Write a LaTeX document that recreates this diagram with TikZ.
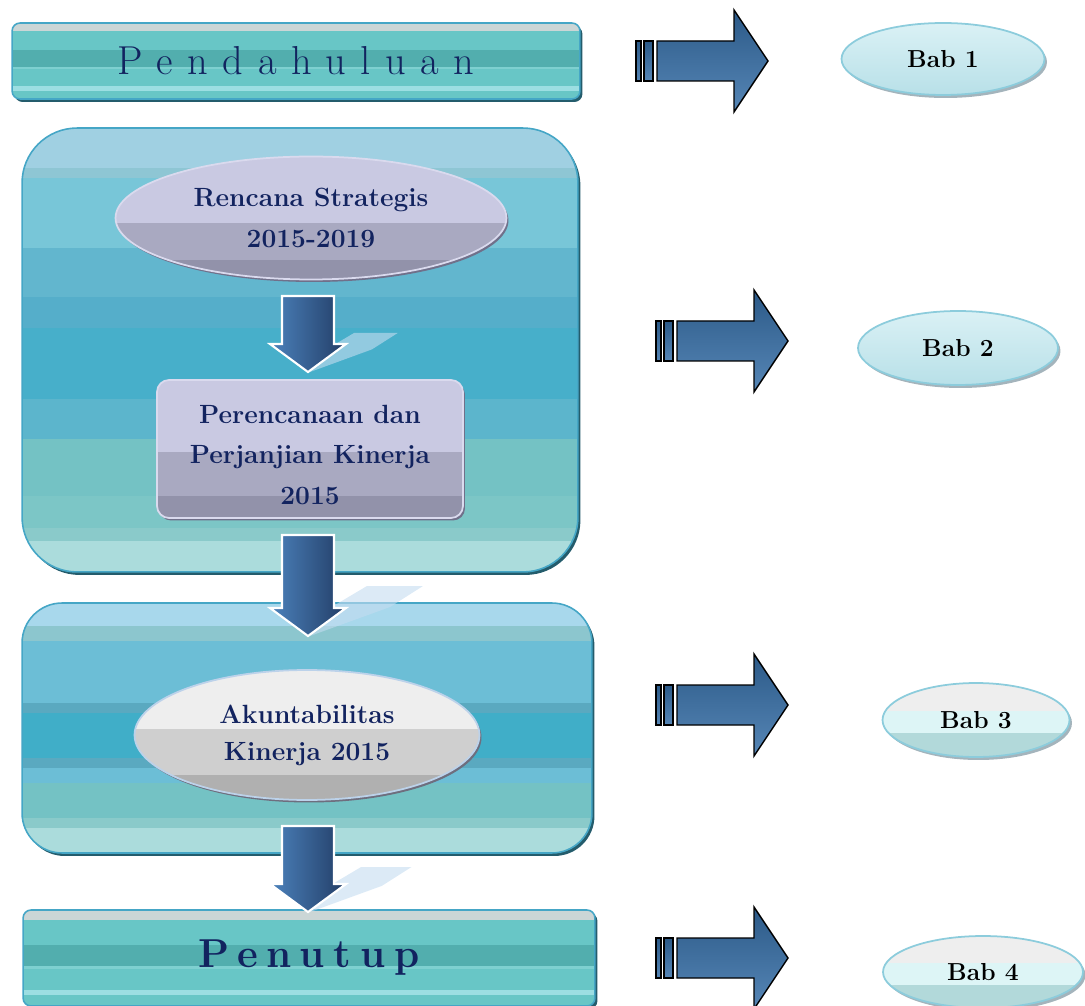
\documentclass[tikz,border=0pt]{standalone}
\usepackage{fontspec}
\setmainfont{Latin Modern Roman}
\usetikzlibrary{shapes.geometric,calc,shadows}

\definecolor{navy}{HTML}{12235F}
\definecolor{tealA}{HTML}{68C6C6}
\definecolor{tealB}{HTML}{52AEAE}
\definecolor{tealC}{HTML}{9CDEE2}
\definecolor{tealD}{HTML}{7ED0D0}
\definecolor{greyA}{HTML}{CBD6D6}
\definecolor{rimblue}{HTML}{45A6C6}
\definecolor{rimdark}{HTML}{245C6C}
\definecolor{lavA}{HTML}{C9C9E2}
\definecolor{lavB}{HTML}{A9A9C1}
\definecolor{lavC}{HTML}{9292AA}
\definecolor{lavrim}{HTML}{DADAEE}
\definecolor{lavshadow}{HTML}{70708A}
\definecolor{silA}{HTML}{EEEEEE}
\definecolor{silB}{HTML}{CFCFCF}
\definecolor{silC}{HTML}{B0B0B0}
\definecolor{silrim}{HTML}{BCD2EA}
\definecolor{silshadow}{HTML}{6E6E7E}
\definecolor{babrim}{HTML}{8CCCDC}
\definecolor{babshadow}{HTML}{A4B4BC}
\definecolor{babtop}{HTML}{DAF1F5}
\definecolor{babbot}{HTML}{B8E0E8}
\definecolor{babmid}{HTML}{DDF5F6}
\definecolor{bablow}{HTML}{B2D9DA}
\definecolor{arrtop}{HTML}{2C5A88}
\definecolor{arrbot}{HTML}{5686B6}
\definecolor{downL}{HTML}{4C82BC}
\definecolor{downR}{HTML}{223D66}
\definecolor{ghost}{HTML}{C4DCF0}
%% stripes of the two panels
\definecolor{pa1}{HTML}{A0D0E2}
\definecolor{pa2}{HTML}{8EC6D4}
\definecolor{pa3}{HTML}{78C6D8}
\definecolor{pa4}{HTML}{62B6CE}
\definecolor{pa5}{HTML}{55AECA}
\definecolor{pa6}{HTML}{47AFCA}
\definecolor{pa7}{HTML}{5CB5CC}
\definecolor{pa8}{HTML}{74C2C4}
\definecolor{pa9}{HTML}{7CC6C6}
\definecolor{pa10}{HTML}{8ACACA}
\definecolor{pa11}{HTML}{ABDCDC}
\definecolor{pb1}{HTML}{A8D8EC}
\definecolor{pb2}{HTML}{8CC6CE}
\definecolor{pb3}{HTML}{6CBED6}
\definecolor{pb4}{HTML}{5AA9C0}
\definecolor{pb5}{HTML}{40AEC8}

%% one stripe inside a path picture: colour, from, to (fractions of the height, from the top)
\newcommand{\band}[3]{\fill[#1,sharp corners] ($(path picture bounding box.north west)!#2!(path picture bounding box.south west)$) rectangle ($(path picture bounding box.north east)!#3!(path picture bounding box.south east)$);}

\tikzset{
  panel/.style={draw=rimblue,line width=0.9pt,inner sep=0pt,
    drop shadow={shadow xshift=0.05cm,shadow yshift=-0.06cm,fill=rimdark,opacity=1}},
  barfill/.style={path picture={\band{greyA}{0}{0.1}\band{tealA}{0.1}{0.36}\band{tealB}{0.36}{0.58}\band{tealD}{0.58}{0.61}\band{tealA}{0.61}{0.83}\band{tealC}{0.83}{0.89}\band{tealA}{0.89}{1}}},
  lavfill/.style={path picture={\band{lavA}{0}{#1}\band{lavB}{#1}{0.84}\band{lavC}{0.84}{1}}},
  lbl/.style={text=navy,font=\bfseries\fontsize{15}{23}\selectfont,align=center,inner sep=0pt},
  babnode/.style={ellipse,inner sep=0pt,draw=babrim,line width=1pt,font=\bfseries\fontsize{14}{16}\selectfont,
    drop shadow={shadow xshift=0.05cm,shadow yshift=-0.06cm,fill=babshadow,opacity=1}},
  babcyan/.style={babnode,top color=babtop,bottom color=babbot},
  babsilver/.style={babnode,path picture={\band{silA}{0}{0.38}\band{babmid}{0.38}{0.68}\band{bablow}{0.68}{1}}},
}

\begin{document}
\begin{tikzpicture}[x=0.02cm,y=-0.02cm]
\useasboundingbox (0,0) rectangle (1085,1006);

%% left column
\node[panel,rounded corners=0.16cm,minimum width=11.36cm,minimum height=1.52cm,barfill,
  text=navy,font=\fontsize{23}{28}\selectfont\addfontfeature{LetterSpace=36}] (intro) at (296,61) {Pendahuluan};

\node[panel,rounded corners=1.1cm,minimum width=11.12cm,minimum height=8.88cm,
  path picture={\band{pa1}{0}{0.09}\band{pa2}{0.09}{0.113}\band{pa3}{0.113}{0.27}
    \band{pa4}{0.27}{0.38}\band{pa5}{0.38}{0.45}\band{pa6}{0.45}{0.61}
    \band{pa7}{0.61}{0.70}\band{pa8}{0.70}{0.83}\band{pa9}{0.83}{0.90}
    \band{pa10}{0.90}{0.93}\band{pa11}{0.93}{1}}] (plan) at (300,350) {};

\node[panel,rounded corners=0.8cm,minimum width=11.4cm,minimum height=5cm,
  path picture={\band{pb1}{0}{0.09}\band{pb2}{0.09}{0.15}\band{pb3}{0.15}{0.40}
    \band{pb4}{0.40}{0.44}\band{pb5}{0.44}{0.62}\band{pb4}{0.62}{0.66}
    \band{pb3}{0.66}{0.72}\band{pa8}{0.72}{0.86}\band{pa10}{0.86}{0.90}
    \band{pa11}{0.90}{1}}] (report) at (307,728) {};

\node[panel,rounded corners=0.16cm,minimum width=11.44cm,minimum height=1.92cm,barfill,
  text=navy,font=\bfseries\fontsize{23}{28}\selectfont\addfontfeature{LetterSpace=22}] (closing) at (309,958) {Penutup};

\node[lbl,ellipse,draw=lavrim,line width=1pt,minimum width=7.82cm,minimum height=2.46cm,lavfill=0.54,
  drop shadow={shadow xshift=0.04cm,shadow yshift=-0.05cm,fill=lavshadow,opacity=1}] (renstra) at (311,218)
  {Rencana Strategis\\2015-2019};

\node[lbl,draw=lavrim,line width=1pt,rounded corners=0.24cm,minimum width=6.12cm,minimum height=2.76cm,lavfill=0.52,
  text height=2.21cm,drop shadow={shadow xshift=0.04cm,shadow yshift=-0.05cm,fill=lavshadow,opacity=1}] (pk) at (310,449)
  {Perencanaan dan\\Perjanjian Kinerja\\2015};

\node[lbl,ellipse,draw=silrim,line width=1pt,minimum width=6.9cm,minimum height=2.6cm,
  font=\bfseries\fontsize{15}{21}\selectfont,
  path picture={\band{silA}{0}{0.45}\band{silB}{0.45}{0.81}\band{silC}{0.81}{1}},
  drop shadow={shadow xshift=0.04cm,shadow yshift=-0.05cm,fill=silshadow,opacity=1}] (akip) at (307,735)
  {Akuntabilitas\\Kinerja 2015};

%% down arrows with their pale shadows
\foreach \yt/\yp/\s in {296/372/0.78, 535/636/1, 826/912/0.9}{
  \fill[ghost,opacity=0.6] (308+27*\s,\yp-31*\s) -- (308+59*\s,\yp-50*\s) -- (308+115*\s,\yp-50*\s)
    -- (308+82*\s,\yp-29*\s) -- (310,\yp) -- cycle;
  \draw[white,line width=1.2pt,left color=downL,right color=downR]
    (282,\yt) -- (334,\yt) -- (334,\yp-28) -- (346,\yp-28) -- (308,\yp) -- (270,\yp-28) -- (282,\yp-28) -- cycle;
}

%% right arrows
\foreach \xa/\ya in {636/61, 656/341, 656/705, 656/958}{
  \draw[black,line width=0.8pt,top color=arrtop,bottom color=arrbot] (\xa,\ya-20) rectangle (\xa+5,\ya+20);
  \draw[black,line width=0.8pt,top color=arrtop,bottom color=arrbot] (\xa+8,\ya-20) rectangle (\xa+17,\ya+20);
  \draw[black,line width=0.8pt,top color=arrtop,bottom color=arrbot]
    (\xa+21,\ya-20) -- (\xa+98,\ya-20) -- (\xa+98,\ya-51) -- (\xa+132,\ya)
    -- (\xa+98,\ya+51) -- (\xa+98,\ya+20) -- (\xa+21,\ya+20) -- cycle;
}

%% chapters
\node[babcyan,minimum width=4.06cm,minimum height=1.44cm] (bab1) at (943,59) {Bab 1};
\node[babcyan,minimum width=4cm,minimum height=1.48cm] (bab2) at (958,348) {Bab 2};
\node[babsilver,minimum width=3.74cm,minimum height=1.48cm] (bab3) at (976,720) {Bab 3};
\node[babsilver,minimum width=4cm,minimum height=1.44cm] (bab4) at (983,972) {Bab 4};
\end{tikzpicture}
\end{document}
